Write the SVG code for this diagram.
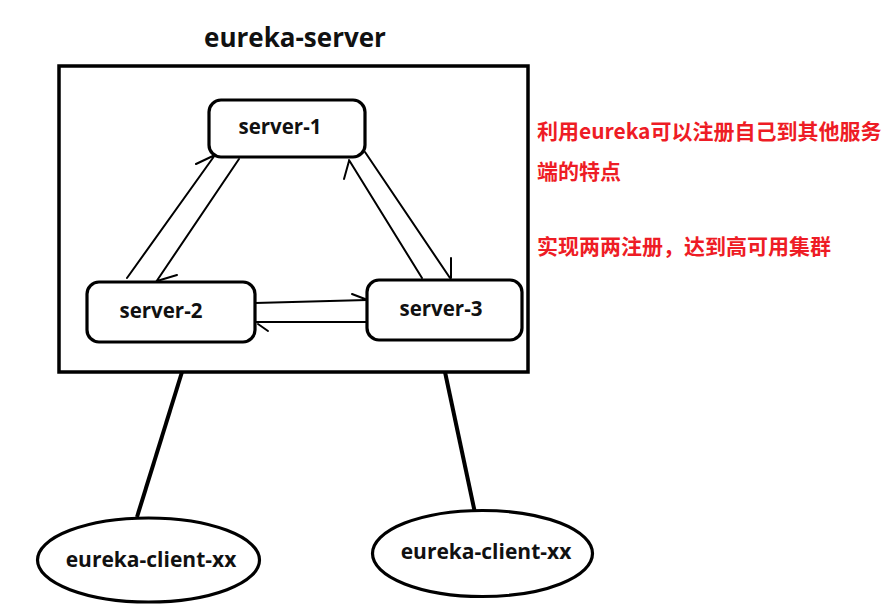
<svg xmlns="http://www.w3.org/2000/svg" width="892" height="614" viewBox="0 0 892 614">
<style>
.lbl{font-family:"Open Sans","Noto Sans","Liberation Sans",sans-serif;font-weight:bold;fill:#111;text-anchor:middle}
.box{fill:#fff;stroke:#000;stroke-width:3.2}
.arr{fill:none;stroke:#000;stroke-width:2;stroke-linecap:round}
.link{fill:none;stroke:#000;stroke-width:4}
.note{font-family:"Noto Sans CJK SC","Open Sans",sans-serif;font-weight:bold;font-size:21px;fill:#ee1c25}
</style>
<rect width="892" height="614" fill="#fff"/>
<g id="eureka-server">
<text class="lbl" x="295" y="47" font-size="26">eureka-server</text>
<rect x="59" y="66" width="469" height="306" fill="none" stroke="#000" stroke-width="3.5"/>
</g>
<g id="connectors">
<path class="arr" d="M127,278 L215,155 M196,164 L215,155"/>
<path class="arr" d="M239,159 L156,282 M157,281 L177,275"/>
<path class="arr" d="M422,278 L349,160 M344,179 L349,161"/>
<path class="arr" d="M365,152 L450,278 M451,258 L451,278"/>
<path class="arr" d="M255,303 L367,300 M352,294 L365,299"/>
<path class="arr" d="M367,322 L255,322 M258,324 L268,331"/>
<path class="link" d="M182,372 L137,517"/>
<path class="link" d="M445,372 L475,513"/>
</g>
<g id="server-1">
<rect class="box" x="209" y="100" width="156" height="57" rx="12"/>
<text class="lbl" x="280" y="134" font-size="20.5">server-1</text>
</g>
<g id="server-2">
<rect class="box" x="87" y="282" width="168" height="60" rx="12"/>
<text class="lbl" x="161" y="318" font-size="20.5">server-2</text>
</g>
<g id="server-3">
<rect class="box" x="367" y="280" width="155" height="60" rx="12"/>
<text class="lbl" x="441" y="316" font-size="20.5">server-3</text>
</g>
<g id="client-1">
<ellipse class="box" cx="148.5" cy="560" rx="111" ry="42"/>
<text class="lbl" x="151" y="567" font-size="21">eureka-client-xx</text>
</g>
<g id="client-2">
<ellipse class="box" cx="482.5" cy="553.5" rx="110" ry="43"/>
<text class="lbl" x="486" y="559" font-size="21">eureka-client-xx</text>
</g>
<g id="note">
<text class="note" x="537" y="139">利用eureka可以注册自己到其他服务</text>
<text class="note" x="537" y="179">端的特点</text>
<text class="note" x="537" y="254">实现两两注册，达到高可用集群</text>
</g>
</svg>
